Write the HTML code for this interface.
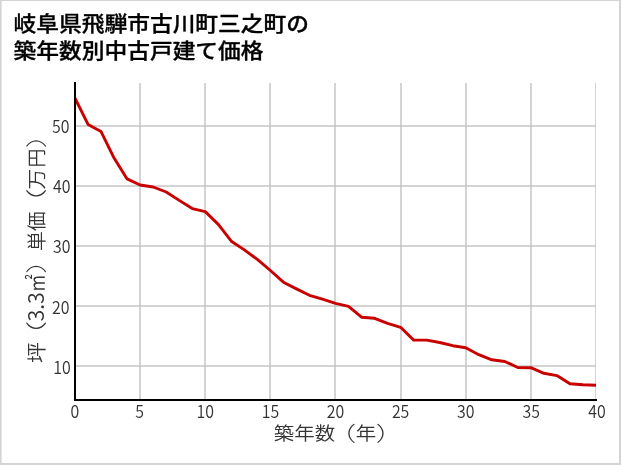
<!DOCTYPE html>
<html lang="ja">
<head>
<meta charset="utf-8">
<title>岐阜県飛騨市古川町三之町の築年数別中古戸建て価格</title>
<style>
html,body{margin:0;padding:0;background:#fff;}
body{width:621px;height:465px;overflow:hidden;font-family:"Liberation Sans","Noto Sans CJK JP",sans-serif;}
svg{display:block;will-change:transform;}
.title{font-family:"Liberation Sans","Noto Sans CJK JP",sans-serif;font-weight:500;font-size:22.75px;fill:#000;stroke:#000;stroke-width:0.35px;stroke-linejoin:round;}
.tick text{font-family:"Noto Sans CJK JP DemiLight","Noto Sans CJK JP","Liberation Sans",sans-serif;font-weight:400;font-size:17.7px;fill:#333;}
.lab{font-family:"Noto Sans CJK JP DemiLight","Noto Sans CJK JP","Liberation Sans",sans-serif;font-weight:400;font-size:20.5px;fill:#333;}
.par{font-family:"Noto Sans CJK JP","Liberation Sans",sans-serif;font-weight:300;}
.grid line{stroke:#bcbcbc;stroke-opacity:0.64;stroke-width:2;}
</style>
</head>
<body>
<svg width="621" height="465" viewBox="0 0 621 465">
<rect x="0" y="0" width="621" height="465" fill="#fff"/>
<clipPath id="c"><rect x="75" y="82.0" width="521" height="318.0"/></clipPath>
<clipPath id="g"><rect x="75" y="83" width="521" height="317"/></clipPath>
<g class="grid" clip-path="url(#g)">
<line x1="75" x2="596" y1="126" y2="126"/>
<line x1="75" x2="596" y1="186" y2="186"/>
<line x1="75" x2="596" y1="246" y2="246"/>
<line x1="75" x2="596" y1="306" y2="306"/>
<line x1="75" x2="596" y1="366" y2="366"/>
<line x1="140" x2="140" y1="82.0" y2="400.0"/>
<line x1="205" x2="205" y1="82.0" y2="400.0"/>
<line x1="270" x2="270" y1="82.0" y2="400.0"/>
<line x1="335" x2="335" y1="82.0" y2="400.0"/>
<line x1="401" x2="401" y1="82.0" y2="400.0"/>
<line x1="466" x2="466" y1="82.0" y2="400.0"/>
<line x1="531" x2="531" y1="82.0" y2="400.0"/>
<line x1="596" x2="596" y1="82.0" y2="400.0"/>
</g>
<polyline points="75.00,98.20 88.03,124.40 101.05,131.60 114.08,158.10 127.10,178.90 140.12,185.00 153.15,187.00 166.18,192.00 179.20,200.40 192.23,208.60 205.25,211.60 218.28,224.40 231.30,241.20 244.33,249.90 257.35,259.40 270.38,270.50 283.40,282.20 296.43,288.90 309.45,295.30 322.48,299.20 335.50,303.30 348.53,306.30 361.55,317.20 374.57,318.30 387.60,323.30 400.62,327.30 413.65,340.10 426.68,340.10 439.70,342.50 452.73,345.70 465.75,347.70 478.78,354.70 491.80,359.80 504.82,361.50 517.85,367.50 530.88,367.70 543.90,373.30 556.92,375.60 569.95,383.70 582.98,384.80 596.00,385.30" fill="none" stroke="#c80000" stroke-width="2.9" stroke-linejoin="round" stroke-linecap="butt" clip-path="url(#c)"/>
<line x1="75" x2="75" y1="82.0" y2="401.0" stroke="#000" stroke-width="2"/>
<line x1="74" x2="597" y1="400.0" y2="400.0" stroke="#000" stroke-width="2"/>
<g class="tick">
<text transform="translate(70.7,374.0) scale(0.9,1)" text-anchor="end">10</text>
<text transform="translate(69.5,313.9) scale(0.9,1)" text-anchor="end">20</text>
<text transform="translate(70.5,253.0) scale(0.9,1)" text-anchor="end">30</text>
<text transform="translate(70.5,193.0) scale(0.9,1)" text-anchor="end">40</text>
<text transform="translate(69.6,133.0) scale(0.9,1)" text-anchor="end">50</text>
<text transform="translate(75.00,418) scale(0.9,1)" text-anchor="middle">0</text>
<text transform="translate(139.72,418) scale(0.9,1)" text-anchor="middle">5</text>
<text transform="translate(205.25,418) scale(0.9,1)" text-anchor="middle">10</text>
<text transform="translate(270.38,418) scale(0.9,1)" text-anchor="middle">15</text>
<text transform="translate(335.50,418) scale(0.9,1)" text-anchor="middle">20</text>
<text transform="translate(400.62,418) scale(0.9,1)" text-anchor="middle">25</text>
<text transform="translate(465.75,418) scale(0.9,1)" text-anchor="middle">30</text>
<text transform="translate(531.17,418) scale(0.9,1)" text-anchor="middle">35</text>
<text transform="translate(596.90,418) scale(0.9,1)" text-anchor="middle">40</text>
</g>
<g transform="translate(273.70,439.86)">
<text class="lab" style="font-size:20.5px" transform="translate(0.00,0.00) scale(1,0.9)">築年数</text>
<text class="lab par" style="font-size:20.5px" transform="translate(54.72,1.14) scale(1.35,1)">（</text>
<text class="lab" style="font-size:20.5px" transform="translate(82.00,0.00) scale(1,0.9)">年</text>
<text class="lab par" style="font-size:20.5px" transform="translate(102.11,1.14) scale(1.35,1)">）</text>
</g>
<g transform="translate(44.0,364) rotate(-90)">
<text class="lab" style="font-size:20.9px" transform="translate(1.00,-0.50) scale(1,0.9)">坪</text>
<text class="lab par" style="font-size:20.9px" transform="translate(14.85,0.00) scale(1.35,1)">（</text>
<text class="lab" style="font-size:22px" transform="translate(42.50,0.30) scale(0.97,1)">3.3</text>
<text class="lab" style="font-size:20.9px" transform="translate(72.00,-0.50) scale(0.85,1.04)">㎡</text>
<text class="lab par" style="font-size:20.9px" transform="translate(90.33,0.00) scale(1.35,1)">）</text>
<text class="lab" style="font-size:20.9px" transform="translate(112.90,0.00) scale(0.95,0.9)">単価</text>
<text class="lab par" style="font-size:20.9px" transform="translate(147.35,0.00) scale(1.35,1)">（</text>
<text class="lab" style="font-size:20.9px" transform="translate(174.50,0.00) scale(1,0.9)">万</text>
<text class="lab" style="font-size:20.9px" transform="translate(196.60,0.00) scale(0.9,0.9)">円</text>
<text class="lab par" style="font-size:20.9px" transform="translate(215.83,0.00) scale(1.35,1)">）</text>
</g>
<text class="title" transform="translate(13.5,31.0) scale(1,0.92)">岐阜県飛騨市古川町三之町の</text>
<text class="title" transform="translate(13.5,57.5) scale(1,0.92)">築年数別中古戸建て価格</text>
<rect x="0" y="0" width="621" height="1" fill="#d4d4d4"/>
<rect x="0" y="0" width="1.6" height="465" fill="#d4d4d4"/>
<rect x="619" y="0" width="2" height="465" fill="#d4d4d4"/>
<rect x="0" y="463" width="621" height="2" fill="#d4d4d4"/>
</svg>
</body>
</html>
